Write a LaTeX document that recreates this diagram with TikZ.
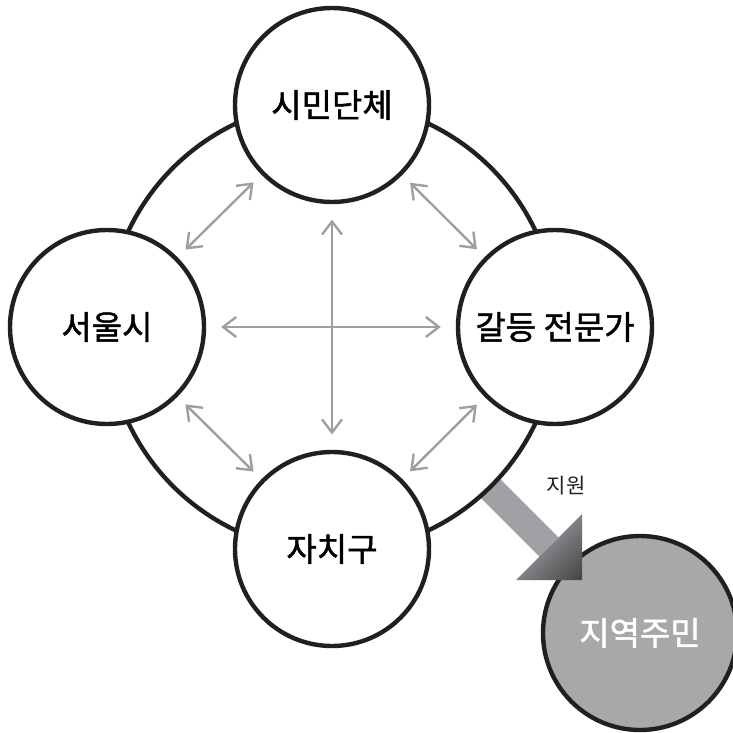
\documentclass[tikz,border=0pt]{standalone}
\usepackage{fontspec}
\newfontfamily\krfont{Noto Sans CJK KR}
\newfontfamily\krmedium[FakeBold=1.4]{Noto Sans CJK KR}
\usetikzlibrary{arrows.meta}

\definecolor{ink}{HTML}{231F20}
\definecolor{linkgray}{HTML}{9D9FA2}
\definecolor{shaftgray}{HTML}{A0A1A4}
\definecolor{headdark}{HTML}{1A1A1C}
\definecolor{fillgray}{HTML}{A7A8AA}

\begin{document}
\begin{tikzpicture}[x=0.5pt,y=-0.5pt,
  party/.style={draw=ink, line width=2.2pt, circle, fill=white, minimum size=97pt, inner sep=0pt, font=\krmedium\fontsize{16.5}{19}\selectfont},
  link/.style={draw=linkgray, line width=1.2pt, {Straight Barb[length=6.5pt,width=10pt]}-{Straight Barb[length=6.5pt,width=10pt]}}]
\useasboundingbox (0,0) rectangle (733,733);
\coordinate (hub) at (332,327);
% support arrow, shaft under the ring
\fill[shaftgray] (499.2,478.0) -- (558.6,537.4) -- (539.4,556.6) -- (480.0,497.2) -- cycle;
\draw[ink, line width=2.2pt] (hub) circle[radius=112.5pt];
\node[party] (civic) at (332,105) {시민단체};
\node[party] (seoul) at (107,327) {서울시};
\node[party] (expert) at (555,327) {갈등 전문가};
\node[party] (gu) at (332,549) {자치구};
\node[party, fill=fillgray, text=white] (resident) at (640,633) {지역주민};
\node[font=\krfont\fontsize{10.5}{12}\selectfont, text=ink] (support) at (566,486) {지원};
% head over the resident circle
\begin{scope}
  \clip (516,580) -- (582,514) -- (582,580) -- cycle;
  \shade[top color=shaftgray, bottom color=headdark, shading angle=45] (516,514) rectangle (620,618);
\end{scope}
% links
\draw[link, shorten <=5.5pt, shorten >=5.5pt] (civic) -- (seoul);
\draw[link, shorten <=5.5pt, shorten >=5.5pt] (civic) -- (expert);
\draw[link, shorten <=5.5pt, shorten >=5.5pt] (gu) -- (seoul);
\draw[link, shorten <=5.5pt, shorten >=5.5pt] (gu) -- (expert);
\draw[link, shorten <=7.7pt, shorten >=7.7pt] (civic) -- (gu);
\draw[link, shorten <=7.5pt, shorten >=7.5pt] (seoul) -- (expert);
\end{tikzpicture}
\end{document}
